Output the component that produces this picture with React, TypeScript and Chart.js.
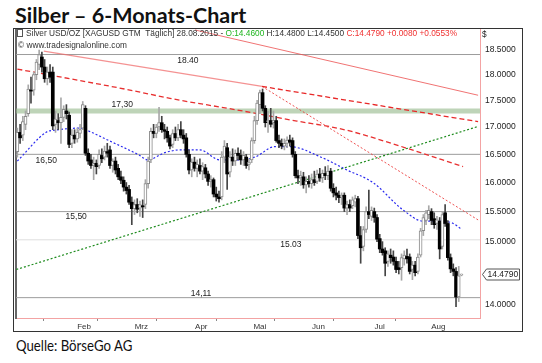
import React, { useEffect, useRef } from 'react';
import { Chart, registerables } from 'chart.js';

Chart.register(...registerables);

const FONT = '"Liberation Sans", Arial, sans-serif';

// ---------- daily candles (slot = trading day, Jan 12 .. Aug 28 2015) ----------
const opens = [
  16.55, 16.90, 16.85, 17.05, 17.25, 17.70, 17.70, 18.00, 18.20, 18.35, 18.15, 17.92, 18.05, 18.05, 17.05,
  17.12, 17.08, 17.18, 17.30, 17.22, 16.70, 16.85, 16.78, 16.88, 16.98, 17.35, 16.52, 16.40, 16.30, 16.34, 16.30, 16.48, 16.45, 16.55, 16.58,
  16.30, 16.38, 16.25, 16.10, 16.04, 15.92, 15.88, 15.66, 15.55, 15.62, 15.56, 15.60, 15.62, 15.98, 16.40, 16.92, 16.88, 17.00, 17.08, 16.95, 16.92, 16.80,
  16.68, 16.88, 16.80, 16.95, 16.85, 16.80, 16.50, 16.22, 16.36, 16.25, 16.30, 16.20, 16.26, 16.15, 16.02, 16.05, 15.80, 15.75, 15.75, 16.45, 16.62, 16.18,
  16.45, 16.38, 16.52, 16.48, 16.40, 16.45, 16.32, 16.40, 16.75, 17.12, 17.42, 17.65, 17.35, 17.10, 17.12, 17.08, 17.12, 16.75, 16.70, 16.65, 16.70,
  16.76, 16.75, 16.50, 16.12, 16.08, 16.10, 15.96, 16.02, 15.98, 16.05, 16.02, 16.15, 16.08, 16.16, 16.12, 16.20, 15.90, 15.82, 15.78, 15.75, 15.78, 15.56,
  15.62, 15.60, 15.66, 15.72, 15.10, 14.92, 15.20, 15.50, 15.42, 15.50, 15.40, 15.05, 14.88, 14.85, 14.68, 14.78, 14.75, 14.68, 14.58, 14.58, 14.72, 14.76, 14.75,
  14.55, 14.62, 14.52, 14.78, 15.18, 15.35, 15.45, 15.50, 15.38, 15.30, 15.34, 14.92, 15.48, 15.30, 14.74, 14.56, 14.52, 14.12, 14.46,
];
const highs = [
  16.98, 17.05, 17.20, 17.30, 17.80, 17.95, 18.05, 18.30, 18.49, 18.45, 18.30, 18.15, 18.20, 18.15, 17.30,
  17.25, 17.55, 17.40, 17.42, 17.28, 16.95, 16.95, 16.98, 17.05, 17.48, 17.40, 16.60, 16.50, 16.45, 16.40, 16.58, 16.60, 16.65, 16.70, 16.65,
  16.42, 16.45, 16.32, 16.20, 16.10, 16.00, 15.95, 15.75, 15.70, 15.72, 15.68, 15.70, 16.05, 16.45, 16.98, 17.05, 17.05, 17.37, 17.20, 17.05, 17.00, 16.85,
  16.95, 17.00, 17.05, 17.10, 16.95, 16.88, 16.58, 16.42, 16.45, 16.40, 16.42, 16.35, 16.32, 16.20, 16.12, 16.08, 15.92, 15.85, 16.55, 16.75, 16.70, 16.55,
  16.60, 16.58, 16.62, 16.58, 16.55, 16.50, 16.42, 16.80, 17.20, 17.50, 17.70, 17.72, 17.40, 17.30, 17.35, 17.30, 17.20, 16.85, 16.78, 16.78, 16.82,
  16.85, 16.80, 16.55, 16.22, 16.20, 16.18, 16.10, 16.12, 16.15, 16.20, 16.22, 16.25, 16.22, 16.28, 16.30, 16.25, 15.98, 15.92, 15.85, 15.82, 15.82, 15.68,
  15.70, 15.75, 15.78, 15.76, 15.25, 15.25, 15.58, 15.87, 15.58, 15.56, 15.45, 15.12, 15.00, 14.90, 14.85, 14.88, 14.85, 14.75, 14.68, 14.80, 14.85, 14.88, 14.80,
  14.68, 14.68, 14.80, 15.22, 15.45, 15.52, 15.60, 15.55, 15.48, 15.42, 15.40, 15.50, 15.62, 15.35, 14.80, 14.64, 14.58, 14.60, 14.48,
];
const lows = [
  16.45, 16.70, 16.75, 16.95, 17.20, 17.45, 17.60, 17.90, 18.10, 18.05, 17.85, 17.80, 17.85, 16.95, 16.90,
  16.95, 16.70, 17.10, 17.15, 16.62, 16.62, 16.70, 16.72, 16.80, 16.95, 16.48, 16.32, 16.25, 16.05, 16.15, 16.25, 16.35, 16.40, 16.45, 16.25,
  16.18, 16.15, 16.05, 15.98, 15.85, 15.80, 15.62, 15.28, 15.45, 15.48, 15.42, 15.40, 15.55, 15.90, 16.35, 16.80, 16.80, 16.92, 16.90, 16.78, 16.72, 16.60,
  16.62, 16.75, 16.75, 16.80, 16.70, 16.45, 16.15, 16.10, 16.20, 16.10, 16.15, 16.05, 16.08, 15.95, 15.92, 15.75, 15.68, 15.66, 15.70, 16.35, 15.88, 16.10,
  16.30, 16.30, 16.40, 16.32, 16.30, 16.25, 16.22, 16.35, 16.70, 17.05, 17.25, 17.30, 17.00, 16.90, 17.00, 16.98, 16.72, 16.62, 16.60, 16.58, 16.62,
  16.65, 16.45, 16.08, 15.98, 15.95, 15.90, 15.82, 15.92, 15.90, 15.95, 15.98, 16.02, 16.00, 16.05, 16.05, 15.85, 15.75, 15.70, 15.65, 15.62, 15.50, 15.45,
  15.50, 15.55, 15.58, 15.05, 14.65, 14.85, 15.15, 15.38, 15.35, 15.32, 15.00, 14.82, 14.78, 14.45, 14.60, 14.65, 14.62, 14.50, 14.48, 14.38, 14.62, 14.65, 14.48,
  14.39, 14.45, 14.48, 14.75, 15.10, 15.28, 15.38, 15.28, 15.22, 15.20, 14.72, 14.88, 15.25, 14.70, 14.50, 14.45, 13.97, 14.05, 14.45,
];
const closes = [
  16.90, 16.80, 17.10, 17.20, 17.72, 17.68, 18.00, 18.25, 18.40, 18.15, 17.92, 18.05, 17.95, 17.02, 17.15,
  17.08, 17.18, 17.33, 17.25, 16.68, 16.85, 16.78, 16.90, 16.95, 17.42, 16.52, 16.38, 16.30, 16.34, 16.28, 16.50, 16.42, 16.56, 16.52, 16.30,
  16.38, 16.22, 16.10, 16.04, 15.92, 15.86, 15.66, 15.55, 15.62, 15.54, 15.62, 15.58, 15.98, 16.38, 16.92, 16.88, 17.00, 17.08, 16.95, 16.92, 16.80, 16.65,
  16.88, 16.80, 16.95, 16.85, 16.78, 16.50, 16.22, 16.36, 16.25, 16.32, 16.20, 16.28, 16.15, 16.02, 16.05, 15.80, 15.75, 15.72, 16.45, 16.65, 16.15, 16.45,
  16.38, 16.52, 16.48, 16.40, 16.48, 16.30, 16.36, 16.75, 17.12, 17.45, 17.65, 17.35, 17.08, 17.12, 17.05, 17.12, 16.75, 16.70, 16.65, 16.70, 16.76,
  16.72, 16.50, 16.12, 16.08, 16.12, 15.96, 16.02, 15.98, 16.05, 16.00, 16.15, 16.08, 16.16, 16.12, 16.20, 15.90, 15.82, 15.78, 15.74, 15.78, 15.56, 15.62,
  15.56, 15.70, 15.72, 15.10, 14.90, 15.20, 15.50, 15.45, 15.52, 15.40, 15.04, 14.88, 14.82, 14.65, 14.80, 14.74, 14.68, 14.55, 14.55, 14.74, 14.78, 14.72, 14.52,
  14.62, 14.50, 14.75, 15.18, 15.40, 15.48, 15.52, 15.35, 15.28, 15.36, 14.88, 15.45, 15.30, 14.74, 14.56, 14.52, 14.12, 14.45, 14.479,
];

// ---------- axes ----------
const monthLabels = ['Feb', 'Mrz', 'Apr', 'Mai', 'Jun', 'Jul', 'Aug'];
const monthMidSlots = [24.5, 45.5, 67.5, 89, 110.5, 133, 154.5];
const monthBoundarySlots = [14.5, 34.5, 56.5, 78.5, 99.5, 121.5, 144.5];
const yTickValues = [14, 15, 15.5, 16, 16.5, 17, 17.5, 18, 18.5];
const xMin = -0.5;
const xMax = 169.8;
const yMin = 13.81;
const yMax = 18.92;

// ---------- support levels ----------
const levelValues = [18.4, 17.3, 16.5, 15.5, 15.03, 14.11];
const levelLabels = ['18.40', '17,30', '16,50', '15,50', '15.03', '14,11'];
const levelLabelSlots = [62.6, 38.5, 10.6, 21.6, 100.4, 67.4];

// ---------- trend lines (slot, price) ----------
const trendR1Slots = [65.2, 169.1];
const trendR1Values = [18.9, 17.6];
const trendASlots = [9.7, 89.8];
const trendAValues = [18.47, 17.77];
const trendA2Slots = [89.8, 169.1];
const trendA2Values = [17.77, 17.1];
const trendCSlots = [89.8, 169.1];
const trendCValues = [17.77, 15.36];
const trendGSlots = [-0.4, 169.1];
const trendGValues = [14.55, 17.01];

// ---------- moving averages ----------
const ma200Slots = [0, 41.3, 56, 80.5, 91.6, 102.6, 114.7, 123.2, 140.4, 163.6];
const ma200Values = [18.11, 17.7, 17.54, 17.32, 17.215, 17.11, 17.007, 16.91, 16.65, 16.28];
const maSlots = [0, 10.8, 13.7, 23.3, 25.5, 34, 44.6, 47.9, 54.1, 59.7, 67, 74.3, 79, 87.2, 94.5, 100, 111, 121, 130.5, 141.5, 148.9, 155.1, 159.5, 163.2];
const maValues = [16.38, 16.91, 16.94, 16.98, 16.94, 16.74, 16.49, 16.4, 16.53, 16.58, 16.58, 16.4, 16.4, 16.45, 16.64, 16.64, 16.46, 16.22, 16.0, 15.53, 15.34, 15.34, 15.31, 15.2];

// styles for level labels (pixel offset from the level line)
const LABEL_OFFSETS = [6, -6, 6, 5, 5, -4];

const pts = (s: number[], v: number[]) => s.map((x, i) => ({ x, y: v[i] }));

const annotPlugin = {
  id: 'annot',
  afterDraw(chart: any) {
    const { ctx, chartArea } = chart;
    const xs = chart.scales.x;
    const ys = chart.scales.y;
    ctx.save();
    ctx.font = `8.5px ${FONT}`;
    ctx.fillStyle = '#222';
    ctx.textAlign = 'center';
    ctx.textBaseline = 'middle';
    levelValues.forEach((v, k) => {
      ctx.fillText(levelLabels[k], xs.getPixelForValue(levelLabelSlots[k]), ys.getPixelForValue(v) + LABEL_OFFSETS[k]);
    });
    const last = closes[closes.length - 1];
    const py = Math.round(ys.getPixelForValue(last)) + 0.5;
    const x0 = chartArea.right + 2.5;
    ctx.beginPath();
    ctx.moveTo(x0, py);
    ctx.lineTo(x0 + 4, py - 5.5);
    ctx.lineTo(x0 + 37, py - 5.5);
    ctx.lineTo(x0 + 37, py + 5.5);
    ctx.lineTo(x0 + 4, py + 5.5);
    ctx.closePath();
    ctx.fillStyle = '#fff';
    ctx.fill();
    ctx.strokeStyle = '#555';
    ctx.lineWidth = 1;
    ctx.stroke();
    ctx.fillStyle = '#222';
    ctx.textAlign = 'left';
    ctx.fillText(last.toFixed(4), x0 + 5, py + 0.5);
    ctx.restore();
  },
};

const noPad = (s: any) => {
  s.paddingTop = 0;
  s.paddingBottom = 0;
};

export default function App() {
  const ref = useRef<HTMLCanvasElement>(null);
  useEffect(() => {
    document.body.style.margin = '0';
    const canvas = ref.current!;
    const up = closes.map((c, i) => c >= opens[i]);
    const line = (data: any[], color: string, width: number, dash: number[], order: number, tension = 0) => ({
      type: 'line',
      data,
      borderColor: color,
      borderWidth: width,
      borderDash: dash,
      pointRadius: 0,
      pointHoverRadius: 0,
      fill: false,
      tension,
      cubicInterpolationMode: tension ? 'monotone' : 'default',
      order,
      xAxisID: 'x',
      yAxisID: 'y',
    });
    const datasets: any[] = [];
    levelValues.forEach((v, k) => {
      const isBand = levelLabels[k] === '17,30';
      const isLight = levelLabels[k] === '15.03';
      datasets.push(
        line(pts([xMin, xMax], [v, v]), isBand ? 'rgba(150,186,140,0.62)' : isLight ? '#dedede' : '#9c9c9c', isBand ? 5 : 1, [], 12)
      );
    });
    datasets.push(line(pts(trendR1Slots, trendR1Values), 'rgba(236,80,80,0.8)', 1, [], 6));
    datasets.push(line(pts(trendASlots, trendAValues), 'rgba(240,110,110,0.75)', 1.2, [], 6));
    datasets.push(line(pts(trendA2Slots, trendA2Values), '#e82828', 1.3, [5, 3], 6));
    datasets.push(line(pts(trendCSlots, trendCValues), 'rgba(235,50,50,0.85)', 1, [2, 2], 6));
    datasets.push(line(pts(trendGSlots, trendGValues), '#1e8c1e', 1.2, [2, 2], 6));
    datasets.push(line(pts(ma200Slots, ma200Values), '#e83030', 1.3, [5, 3], 5, 0.4));
    datasets.push(line(pts(maSlots, maValues), '#2b2bef', 1.2, [2, 2], 5, 0.4));
    datasets.push({
      type: 'bar',
      data: lows.map((l, i) => ({ x: i, y: [l, highs[i]] })),
      backgroundColor: up.map((u) => (u ? '#a8a8a8' : '#444')),
      borderWidth: 0,
      barThickness: 1,
      grouped: false,
      order: 2,
      xAxisID: 'x',
      yAxisID: 'y',
    });
    datasets.push({
      type: 'bar',
      data: opens.map((o, i) => ({ x: i, y: [o, closes[i]] })),
      backgroundColor: up.map((u) => (u ? '#ffffff' : '#000000')),
      borderColor: up.map((u) => (u ? '#8a8a8a' : '#000000')),
      borderWidth: up.map((u) => (u ? 1 : 0)),
      borderSkipped: false,
      barThickness: 3,
      grouped: false,
      order: 1,
      xAxisID: 'x',
      yAxisID: 'y',
    });

    const chart = new Chart(canvas, {
      type: 'bar',
      data: { datasets },
      plugins: [annotPlugin],
      options: {
        animation: false,
        responsive: false,
        devicePixelRatio: 1,
        events: [],
        layout: { padding: 0 },
        plugins: { legend: { display: false }, tooltip: { enabled: false }, title: { display: false } },
        scales: {
          x: {
            type: 'linear',
            min: xMin,
            max: xMax,
            offset: false,
            afterBuildTicks: (s: any) => {
              s.ticks = [...monthBoundarySlots, ...monthMidSlots].sort((a, b) => a - b).map((v) => ({ value: v }));
            },
            afterFit: (s: any) => {
              s.height = 13;
              s.paddingLeft = 0;
              s.paddingRight = 0;
            },
            ticks: {
              autoSkip: false,
              maxRotation: 0,
              minRotation: 0,
              padding: 1,
              color: '#333',
              font: { size: 8, family: FONT },
              callback: (v: any) => {
                const k = monthMidSlots.indexOf(Number(v));
                return k >= 0 ? monthLabels[k] : '';
              },
            },
            grid: {
              drawOnChartArea: false,
              drawTicks: true,
              tickLength: 3,
              color: (c: any) => (c.tick && monthBoundarySlots.includes(c.tick.value) ? '#888' : 'rgba(0,0,0,0)'),
            },
            border: { display: true, color: '#f3a3a3', width: 1 },
          },
          y: {
            type: 'logarithmic',
            position: 'right',
            min: yMin,
            max: yMax,
            afterBuildTicks: (s: any) => {
              s.ticks = yTickValues.map((v) => ({ value: v }));
            },
            afterFit: (s: any) => {
              s.width = 42;
              noPad(s);
            },
            ticks: {
              autoSkip: false,
              padding: 5,
              color: '#222',
              font: { size: 8.5, family: FONT },
              callback: (v: any) => Number(v).toFixed(4),
            },
            grid: { display: false, drawTicks: false },
            border: { display: true, color: '#f3a3a3', width: 1 },
          },
          yL: {
            type: 'logarithmic',
            position: 'left',
            min: yMin,
            max: yMax,
            afterFit: (s: any) => {
              s.width = 2;
              noPad(s);
            },
            ticks: { display: false },
            grid: { display: false, drawTicks: false },
            border: { display: true, color: '#666', width: 2 },
          },
        },
      } as any,
    } as any);
    return () => chart.destroy();
  }, []);

  const hdr: React.CSSProperties = {
    position: 'absolute',
    whiteSpace: 'nowrap',
    font: `8.3px ${FONT}`,
    lineHeight: '10px',
    color: '#333',
  };

  return (
    <div style={{ position: 'fixed', left: 0, top: 0, width: 542, height: 363, background: '#fff' }}>
      <div style={{ position: 'absolute', left: 15, top: 3, font: 'bold 21.5px Lato, "Open Sans", sans-serif', lineHeight: '25px', color: '#111', whiteSpace: 'nowrap' }}>
        Silber – 6-Monats-Chart
      </div>
      <div style={{ position: 'absolute', left: 13, top: 28, width: 510, height: 304, border: '1px solid #333', boxSizing: 'border-box' }}>
        <canvas ref={ref} width={508} height={302} style={{ position: 'absolute', left: 0, top: 0, width: 508, height: 302 }} />
        <div style={{ ...hdr, left: 3, top: -1 }}>
          <span style={{ display: 'inline-block', width: 4, height: 6, border: '1px solid #555', verticalAlign: '-1px', marginRight: 3 }} />
          Silver USD/OZ [XAGUSD GTM&nbsp; Täglich] 28.08.2015 - <span style={{ color: '#1fb51f' }}>O:14.4600</span> H:14.4800 L:14.4500{' '}
          <span style={{ color: '#f03030' }}>C:14.4790 +0.0080 +0.0553%</span>
        </div>
        <div style={{ ...hdr, left: 4, top: 11 }}>© www.tradesignalonline.com</div>
        <div style={{ ...hdr, left: 468, top: 0, color: '#222' }}>$</div>
      </div>
      <div style={{ position: 'absolute', left: 16, top: 336, font: '15px Lato, "Open Sans", sans-serif', lineHeight: '18px', color: '#111', whiteSpace: 'nowrap', transform: 'scaleX(0.88)', transformOrigin: 'left top' }}>
        Quelle: BörseGo AG
      </div>
    </div>
  );
}
